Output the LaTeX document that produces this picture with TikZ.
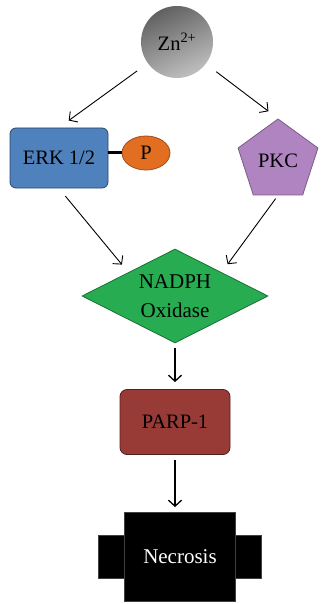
\documentclass[tikz,border=0pt]{standalone}
\usepackage{fontspec}
\setmainfont{Liberation Serif}
\usetikzlibrary{calc,positioning,arrows.meta,shapes.geometric,backgrounds}
\definecolor{erkblue}{RGB}{79,129,189}
\definecolor{porange}{RGB}{226,110,34}
\definecolor{pkcpurple}{RGB}{176,132,192}
\definecolor{noxgreen}{RGB}{40,172,82}
\definecolor{parpred}{RGB}{152,58,54}

\begin{document}
\begin{tikzpicture}[
  x=1pt,y=-1pt,
  font=\fontsize{20.5}{24}\selectfont,
  flow/.style={-{Straight Barb[length=6pt,width=13pt]},line width=.9pt},
  ]
  \useasboundingbox (0,0) rectangle (321,604);

  %zinc
  \node (zn) [circle,minimum size=72pt,inner sep=0pt,shading=axis,top color=black!62,bottom color=black!25,shading angle=25] at (177,42) {Zn\textsuperscript{2+}};

  %erk with phosphate
  \node (erk) [rectangle,rounded corners=6pt,fill=erkblue,draw=erkblue!55!black,line width=.8pt,minimum width=98pt,minimum height=60pt] at (59,158) {ERK 1/2};
  \node (p) [ellipse,fill=porange,draw=porange!70!black,line width=.8pt,minimum width=48pt,minimum height=34pt,inner sep=0pt] at (146,153) {P};
  \draw[line width=3pt] (erk.east |- p.west) -- (p.west);

  %pkc
  \node (pkc) [regular polygon,regular polygon sides=5,fill=pkcpurple,draw=pkcpurple!70!black,line width=.8pt,minimum size=84pt,inner sep=0pt] at (278,161) {PKC};

  %nadph oxidase
  \node (nox) [diamond,aspect=2,fill=noxgreen,draw=noxgreen!65!black,line width=.8pt,minimum width=186pt,minimum height=94pt,inner sep=0pt,align=center,font=\fontsize{21}{29}\selectfont] at (175,296) {NADPH\\Oxidase};

  %parp
  \node (parp) [rectangle,rounded corners=7pt,fill=parpred,draw=parpred!55!black,line width=.8pt,minimum width=110pt,minimum height=65pt] at (175,422) {PARP-1};

  %necrosis
  \node (nec) [rectangle,fill=black,draw=black!75,line width=.8pt,minimum width=111pt,minimum height=89pt,text=white,font=\fontsize{21}{24}\selectfont] at (180,557) {Necrosis};
  \begin{pgfonlayer}{background}
    \filldraw[fill=black,draw=black!75,line width=.8pt] ($(nec.west)+(-26,-21.5)$) rectangle ($(nec.east)+(25,21.5)$);
  \end{pgfonlayer}

  %arrows
  \draw[flow,shorten <=13pt,shorten >=12pt] (zn) -- (erk.north);
  \draw[flow,shorten <=13pt,shorten >=12pt] (zn) -- (pkc.north);
  \draw[flow,shorten <=10pt,shorten >=10pt] (erk.south) -- (nox.north west);
  \draw[flow,shorten <=4pt,shorten >=10pt] (pkc.south) -- (nox.north east);
  \draw[flow,line width=1.3pt,shorten <=5pt,shorten >=7pt] (nox.south) -- (parp.north);
  \draw[flow,line width=1.3pt,shorten <=5pt,shorten >=5pt] (parp.south) -- (parp.south |- nec.north);

\end{tikzpicture}
\end{document}
